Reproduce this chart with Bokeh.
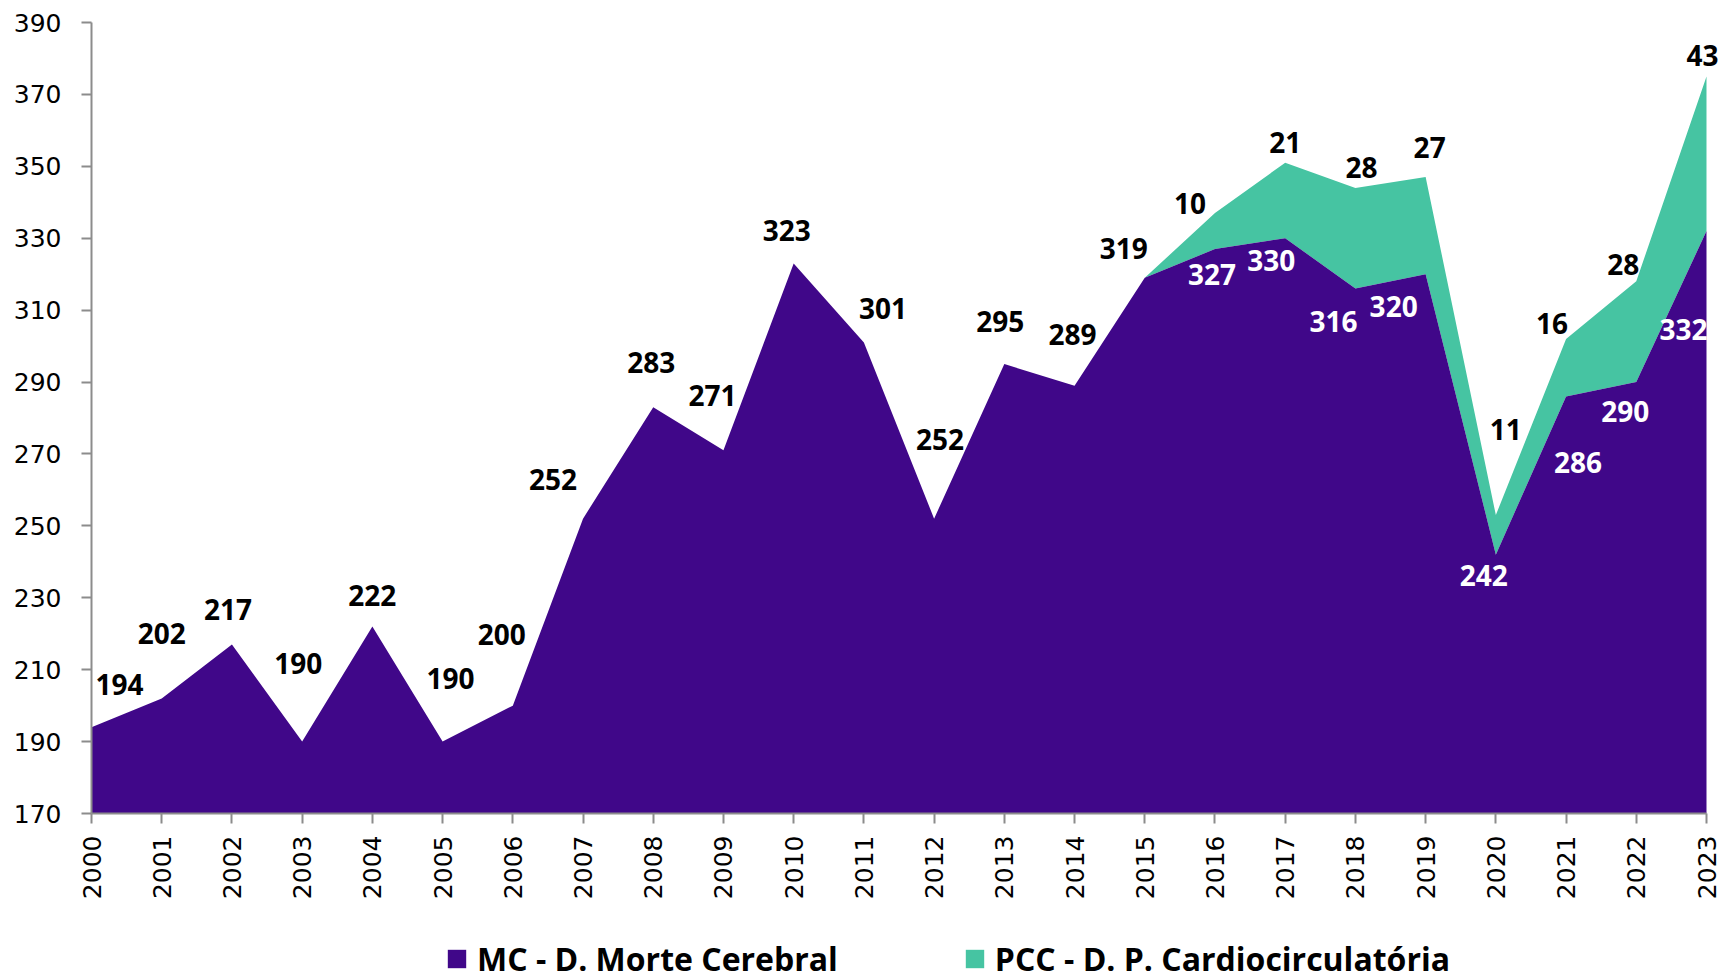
from math import pi
from bokeh.plotting import figure
from bokeh.layouts import column
from bokeh.models import FixedTicker, Range1d, Legend, LegendItem, ColumnDataSource
from bokeh.core.properties import value
from bokeh.embed import file_html
from bokeh.resources import INLINE

years = list(range(2000, 2024))
mc = [194, 202, 217, 190, 222, 190, 200, 252, 283, 271, 323, 301, 252, 295, 289, 319,
      327, 330, 316, 320, 242, 286, 290, 332]
pcc = [0, 0, 0, 0, 0, 0, 0, 0, 0, 0, 0, 0, 0, 0, 0, 0,
       10, 21, 28, 27, 11, 16, 28, 43]
y_ticks = list(range(170, 391, 20))
series_names = ["MC - D. Morte Cerebral", "PCC - D. P. Cardiocirculatória"]

# label nudges in screen pixels (dx, dy; dy positive = up)
mc_nudge = [(28, 43), (0, 65), (-4, 35), (-4, 78), (0, 31), (8, 63), (-11, 71), (-30, 39),
            (-2, 45), (-11, 55), (-7, 33), (19, 34), (6, 79), (-4, 43), (-2, 51), (-21, 29),
            (-3, -25), (-14, -22), (-22, -33), (-32, -32), (-12, -21), (12, -66), (-11, -29), (-23, -98)]
pcc_nudge = [(-25, 10), (0, 20), (6, 20), (4, 30), (10, 86), (-14, 15), (-13, 17), (-4, 21)]

PURPLE = "#400789"
TEAL = "#46C4A2"

FW, FH = 1615, 791
EXT = 16
x0, x1 = years[0], years[-1]
y0, y1 = y_ticks[0], y_ticks[-1]
ppx = FW / (x1 - x0)
ppy = FH / (y1 - y0)
TOTAL_W = 91 + FW + EXT + 2

p = figure(frame_width=FW + EXT, frame_height=FH, output_backend="svg", toolbar_location=None,
           x_range=Range1d(x0, x1 + EXT / ppx), y_range=Range1d(y0, y1),
           min_border_left=91, min_border_right=2, min_border_top=22, min_border_bottom=110)
p.outline_line_color = None
p.xgrid.visible = False
p.ygrid.visible = False

total = [a + b for a, b in zip(mc, pcc)]
src = ColumnDataSource(dict(x=years, base=[0] * len(years), mc=mc, top=total))
p.varea(x="x", y1="mc", y2="top", source=src, fill_color=TEAL)
p.varea(x="x", y1="base", y2="mc", source=src, fill_color=PURPLE)

for ax in (p.xaxis[0], p.yaxis[0]):
    ax.axis_line_color = "#8c8c8c"
    ax.axis_line_width = 2
    ax.major_tick_line_color = "#8c8c8c"
    ax.major_tick_line_width = 2
    ax.major_tick_out = 10
    ax.major_tick_in = 0
    ax.minor_tick_line_color = None
    ax.major_label_text_font = "DejaVu Sans"
    ax.major_label_text_font_size = "25px"
    ax.major_label_text_color = "black"

p.xaxis.ticker = FixedTicker(ticks=years)
p.xaxis.bounds = (x0, x1)
p.xaxis.major_label_orientation = pi / 2
p.xaxis.major_label_standoff = 12
p.yaxis.ticker = FixedTicker(ticks=y_ticks)
p.yaxis.major_label_standoff = 20

# labels
lx, ly, lt, lc = [], [], [], []
for i, (yr, v) in enumerate(zip(years, mc)):
    dx, dy = mc_nudge[i]
    lx.append(yr + dx / ppx)
    ly.append(v + dy / ppy)
    lt.append(str(v))
    lc.append("black" if pcc[i] == 0 else "white")
for i, (yr, v) in enumerate(zip(years, pcc)):
    if v == 0:
        continue
    k = i - 16
    dx, dy = pcc_nudge[k]
    lx.append(yr + dx / ppx)
    ly.append(total[i] + dy / ppy)
    lt.append(str(v))
    lc.append("black")
lsrc = ColumnDataSource(dict(x=lx, y=ly, t=lt, c=lc))
p.text(x="x", y="y", text="t", source=lsrc, text_color="c", text_align="center",
       text_baseline="middle", text_font=value("Open Sans"), text_font_style="bold",
       text_font_size="28px")

# legend strip below the chart
lg = figure(width=TOTAL_W, height=57, output_backend="svg", toolbar_location=None,
            x_range=Range1d(0, 1), y_range=Range1d(0, 1), x_axis_type=None, y_axis_type=None,
            min_border=0)
lg.outline_line_color = None
lg.xgrid.visible = False
lg.ygrid.visible = False
d_mc = lg.varea(x=[0, 1], y1=[-1, -1], y2=[-1, -1], fill_color=PURPLE)
d_pcc = lg.varea(x=[0, 1], y1=[-1, -1], y2=[-1, -1], fill_color=TEAL)
legend = Legend(items=[LegendItem(label=series_names[0], renderers=[d_mc]),
                       LegendItem(label=series_names[1], renderers=[d_pcc])],
                orientation="horizontal", location=(354, 0), padding=0, margin=0,
                spacing=125, glyph_width=23, glyph_height=23, label_standoff=9,
                label_text_font="Open Sans", label_text_font_style="bold",
                label_text_color="black",
                label_text_font_size="32px", background_fill_alpha=0, border_line_color=None)
lg.add_layout(legend, "center")

layout = column(p, lg, spacing=0)
open("out.html", "w").write(file_html(layout, INLINE))
